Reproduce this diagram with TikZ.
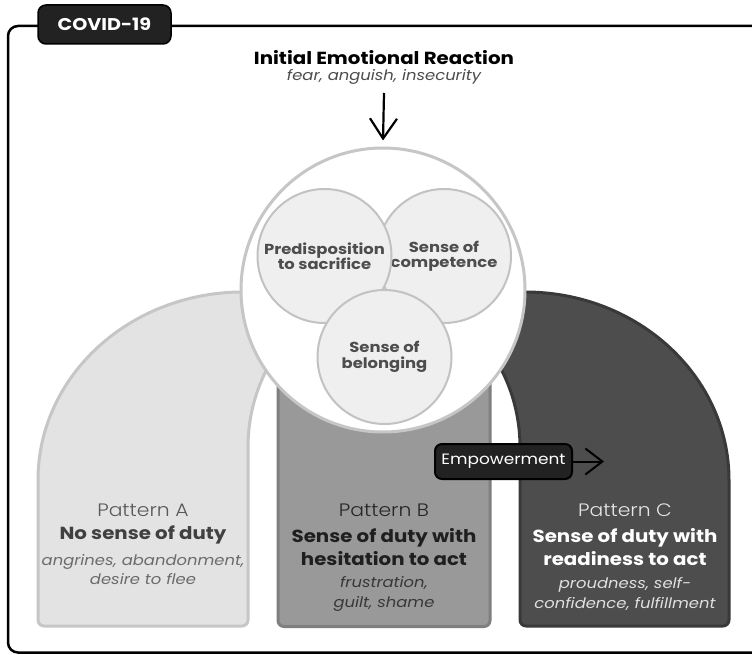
\documentclass[tikz,border=0pt]{standalone}
\usepackage{fontspec}
\setmainfont{Poppins}[FakeStretch=1.13]
\newfontfamily\lightfont{Poppins Light}[FakeStretch=1.13]
\usetikzlibrary{arrows.meta}
\definecolor{aFill}{HTML}{E3E3E3}
\definecolor{aLine}{HTML}{C6C6C6}
\definecolor{bFill}{HTML}{999999}
\definecolor{bLine}{HTML}{7F7F7F}
\definecolor{cFill}{HTML}{4D4D4D}
\definecolor{cLine}{HTML}{393939}
\definecolor{smallFill}{HTML}{EFEFEF}
\definecolor{smallLine}{HTML}{C2C2C2}
\definecolor{circText}{HTML}{4D4D4D}
\definecolor{darkbox}{HTML}{222222}
\tikzset{
  smallc/.style={circle, draw=smallLine, fill=smallFill, line width=2pt, minimum size=134pt, inner sep=0pt,
    font=\bfseries\fontsize{14.5}{15.5}\selectfont, text=circText, align=center},
  pathead/.style={font=\lightfont\fontsize{18}{18}\selectfont},
  patbold/.style={font=\bfseries\fontsize{17.5}{23}\selectfont, align=center},
  patital/.style={font=\itshape\fontsize{14.5}{19.5}\selectfont, align=center},
  blackbox/.style={fill=darkbox, draw=black, text=white},
}
\begin{document}
\begin{tikzpicture}[x=1pt,y=-1pt]
\useasboundingbox (0,0) rectangle (752,655);
\fill[white] (0,0) rectangle (752,655);
% frame
\draw[line width=2.5pt, rounded corners=10pt] (8,26) rectangle (790,652.5);
\node[blackbox, line width=1.5pt, rounded corners=8pt, minimum width=133pt, minimum height=39pt,
  font=\bfseries\fontsize{17}{17}\selectfont] (covid) at (104.5,24.5) {COVID-19};
% title
\node[font=\bfseries\fontsize{17.5}{18}\selectfont] (title) at (384,58) {Initial Emotional Reaction};
\node[font=\itshape\fontsize{14.5}{15}\selectfont, text=black!70] (sub) at (384,77) {fear, anguish, insecurity};
% pattern A
\path[fill=aFill, draw=aLine, line width=3pt]
  (290,292) -- (243,292) arc(270:180:205 and 188) -- (38,620) arc(180:90:6) -- (242,626) arc(90:0:6)
  -- (248,447) arc(180:220:170) -- cycle;
% pattern C
\path[fill=cFill, draw=cLine, line width=3pt]
  (477,292) -- (525,292) arc(270:360:204 and 188) -- (729,620) arc(0:90:6) -- (526,626) arc(90:180:6)
  -- (520,447) arc(0:-40:170) -- cycle;
% pattern B
\path[fill=bFill, draw=bLine, line width=3pt, rounded corners=6pt] (278,365) rectangle (490,626.5);
% big circle
\node[circle, draw=aLine, fill=white, line width=3pt, minimum size=284pt, inner sep=0pt] (big) at (383,290) {};
\draw[line width=2.2pt, -{Straight Barb[length=20pt,width=27pt]}] (384,93) -- ([yshift=6pt]big.north);
% small circles
\node[smallc] (comp) at (444,256) {Sense of\\competence};
\node[smallc] (pre) at (324.5,256) {Predisposition\\to sacrifice};
\node[smallc] (bel) at (384.5,357) {Sense of\\belonging};
% texts A
\node[pathead, text=black!65] (pa) at (143,510) {Pattern A};
\node[patbold, text=black!75] (pab) at (143,535) {No sense of duty};
\node[patital, text=black!58] (pai) at (143,569.5) {angrines, abandonment,\\desire to flee};
% texts B
\node[pathead, text=black!85] (pb) at (384,510) {Pattern B};
\node[patbold, text=black!88] (pbb) at (384,547.5) {Sense of duty with\\hesitation to act};
\node[patital, text=black!78] (pbi) at (384,594) {frustration,\\guilt, shame};
% texts C
\node[pathead, text=black!10] (pc) at (625,510) {Pattern C};
\node[patbold, text=white] (pcb) at (625,547.5) {Sense of duty with\\readiness to act};
\node[patital, text=black!12] (pci) at (625,594) {proudness, self-\\confidence, fulfillment};
% empowerment
\node[blackbox, line width=2pt, rounded corners=7pt, minimum width=137pt, minimum height=35pt,
  font=\fontsize{15}{15}\selectfont] (emp) at (503.5,461.5) {Empowerment};
\coordinate (empEnd) at (604,461.5);
\draw[line width=2pt, -{Straight Barb[length=17pt,width=26pt]}] (emp.east) -- (empEnd);
\end{tikzpicture}
\end{document}
